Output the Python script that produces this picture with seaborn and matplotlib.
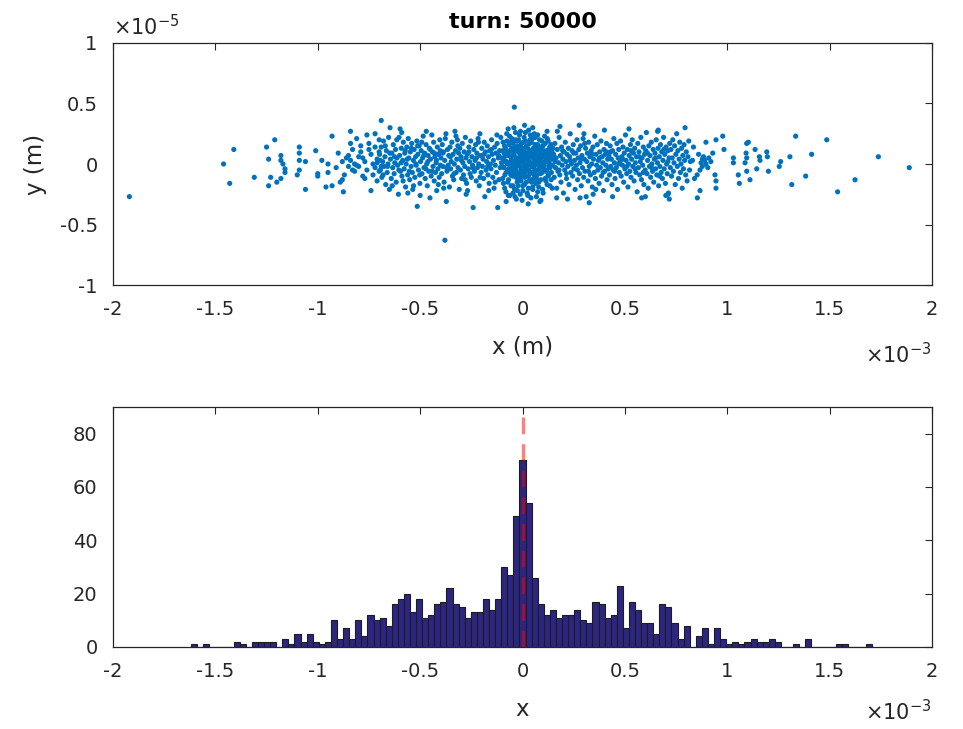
import numpy as np
import pandas as pd
import matplotlib
matplotlib.use("Agg")
import matplotlib.pyplot as plt
import seaborn as sns

# ---------------- data ----------------
title_text = "turn: 50000"
scatter_xlabel = "x (m)"
scatter_ylabel = "y (m)"
hist_xlabel = "x"
x_ticks = [-2, -1.5, -1, -0.5, 0, 0.5, 1, 1.5, 2]          # units of 1e-3 m
y_ticks = [-1, -0.5, 0, 0.5, 1]                             # units of 1e-5 m
hist_yticks = [0, 20, 40, 60, 80]

# scatter points (x in 1e-3 m, y in 1e-5 m), grouped by region
pts_left_tail = [(-1.92,-0.27),(-1.46,0.00),(-1.41,0.12),(-1.43,-0.16),(-1.31,-0.11),(-1.25,0.14),(-1.21,0.20),
    (-1.24,0.04),(-1.23,-0.11),(-1.24,-0.18),(-1.18,0.07),(-1.18,0.03),(-1.17,0.00),(-1.16,-0.04),(-1.16,-0.07),
    (-1.18,-0.12),(-1.20,-0.15),(-1.09,0.14),(-1.09,0.09),(-1.09,0.03),(-1.06,0.02),(-1.09,-0.05),(-1.10,-0.09),
    (-1.06,-0.21),(-1.01,0.11),(-0.98,0.03),(-1.00,-0.08),(-1.00,-0.10),(-0.95,0.00),(-0.95,-0.07),(-0.96,-0.19),
    (-0.93,-0.18),(-0.93,0.23)]
pts_left_mid = [(-0.84,0.27),(-0.84,0.17),(-0.83,0.12),(-0.81,0.21),(-0.85,0.07),(-0.84,0.03),(-0.85,-0.02),
    (-0.87,-0.09),(-0.88,-0.13),(-0.89,-0.15),(-0.875,-0.23),(-0.82,-0.06),(-0.76,0.24),(-0.75,0.17),(-0.79,0.10),
    (-0.78,0.05),(-0.77,0.02),(-0.80,-0.02),(-0.76,-0.05),(-0.74,0.08),(-0.73,0.00),(-0.72,-0.03),(-0.75,0.12),
    (-0.78,-0.10),(-0.77,-0.12),(-0.72,0.14),(-0.71,0.04),(-0.73,-0.09),(-0.80,0.06),(-0.81,-0.01),(-0.79,0.15),
    (-0.70,0.20),(-0.71,-0.14),(-0.74,-0.22),(-0.69,0.36),(-0.72,0.25),(-0.70,0.10),(-0.70,-0.06),(-0.71,0.01),
    (-0.69,-0.02),(-0.86,0.05),(-0.82,0.00),(-0.83,-0.05),(-0.88,0.02),(-0.90,0.09),(-0.91,-0.03)]
pts_left_inner = [(-0.698,0.08),(-0.694,-0.05),(-0.690,0.14),(-0.687,-0.11),(-0.683,0.02),(-0.679,0.19),(-0.676,-0.02),
    (-0.672,0.06),(-0.668,-0.17),(-0.665,0.11),(-0.661,-0.07),(-0.657,0.00),(-0.654,0.22),(-0.650,-0.21),(-0.647,0.30),
    (-0.645,0.04),(-0.641,-0.12),(-0.638,0.09),(-0.634,-0.03),(-0.631,0.16),(-0.627,-0.08),(-0.624,0.01),(-0.620,0.12),
    (-0.617,-0.15),(-0.613,0.05),(-0.610,-0.01),(-0.606,-0.25),(-0.603,0.22),(-0.600,0.07),(-0.598,0.29),(-0.596,-0.06),
    (-0.592,0.13),(-0.589,-0.10),(-0.585,0.03),(-0.582,0.18),(-0.578,-0.04),(-0.575,0.09),(-0.571,-0.19),(-0.568,0.00),
    (-0.565,0.14),(-0.561,-0.09),(-0.558,0.21),(-0.555,0.05),(-0.551,-0.13),(-0.548,0.10),(-0.544,-0.02),(-0.541,0.17),
    (-0.538,-0.07),(-0.536,-0.21),(-0.533,0.03),(-0.529,0.12),(-0.526,-0.11),(-0.522,0.06),(-0.519,-0.01),(-0.516,0.19),
    (-0.514,-0.35),(-0.511,0.08),(-0.508,-0.05),(-0.505,0.15),(-0.501,-0.16),(-0.498,0.02),(-0.495,0.11),(-0.491,-0.08),
    (-0.488,0.05),(-0.485,0.23),(-0.481,-0.03),(-0.478,0.09),(-0.475,-0.12),(-0.471,0.16),(-0.468,0.00),(-0.465,-0.18),
    (-0.461,0.07),(-0.458,-0.06),(-0.455,0.13),(-0.452,-0.28),(-0.449,0.04),(-0.446,-0.10),(-0.443,0.24),(-0.440,0.10),
    (-0.437,-0.02),(-0.434,0.18),(-0.431,-0.14),(-0.428,0.06),(-0.425,-0.07),(-0.422,0.01),(-0.419,-0.22),(-0.416,0.14),
    (-0.413,-0.04),(-0.410,0.08),(-0.407,-0.11),(-0.404,0.20),(-0.401,-0.01),
    (-0.695,0.03),(-0.681,-0.09),(-0.670,0.15),(-0.659,-0.02),(-0.648,0.09),(-0.636,-0.18),(-0.625,0.06),(-0.614,0.20),
    (-0.604,-0.05),(-0.593,0.01),(-0.583,-0.14),(-0.573,0.11),(-0.563,0.04),(-0.553,-0.06),(-0.543,0.13),(-0.532,-0.18),
    (-0.521,0.00),(-0.512,0.15),(-0.502,-0.09),(-0.492,0.18),(-0.482,0.07),(-0.472,-0.04),(-0.462,0.02),(-0.451,0.12),
    (-0.441,-0.06),(-0.430,0.09),(-0.420,0.03),(-0.411,-0.17),(-0.402,0.11),(-0.560,-0.24),(-0.590,0.26),(-0.470,0.27),
    (-0.500,-0.26)]
pts_near_left = [(-0.398,0.05),(-0.395,-0.08),(-0.392,0.16),(-0.389,-0.02),(-0.386,0.10),(-0.383,-0.15),(-0.380,0.03),
    (-0.379,-0.63),(-0.377,0.21),(-0.374,0.25),(-0.372,-0.31),(-0.369,-0.06),(-0.366,0.12),(-0.363,-0.01),(-0.360,0.07),
    (-0.357,-0.19),(-0.354,0.14),(-0.351,-0.04),(-0.348,0.02),(-0.345,0.18),(-0.342,-0.10),(-0.339,0.08),(-0.336,-0.13),
    (-0.333,0.00),(-0.330,0.27),(-0.327,0.11),(-0.324,-0.07),(-0.321,0.04),(-0.318,0.20),(-0.315,-0.03),(-0.312,0.09),
    (-0.309,-0.21),(-0.306,0.13),(-0.303,-0.05),(-0.300,0.06),(-0.297,-0.12),(-0.294,0.17),(-0.291,0.01),(-0.288,-0.09),
    (-0.285,0.10),(-0.282,-0.02),(-0.279,0.22),(-0.276,0.05),(-0.273,-0.16),(-0.270,0.08),(-0.268,-0.22),(-0.265,-0.04),
    (-0.262,0.14),(-0.259,0.02),(-0.256,-0.08),(-0.253,0.19),(-0.250,-0.11),(-0.247,0.06),(-0.244,-0.01),(-0.241,-0.36),
    (-0.238,0.12),(-0.235,-0.06),(-0.232,0.03),(-0.229,0.16),(-0.226,-0.14),(-0.223,0.09),(-0.220,-0.03),(-0.217,0.21),
    (-0.214,0.00),(-0.211,-0.18),(-0.208,0.25),(-0.205,0.07),(-0.202,-0.07),(-0.199,0.13),(-0.196,-0.02),(-0.193,0.04),
    (-0.190,-0.12),(-0.187,0.18),(-0.184,-0.27),(-0.181,0.10),(-0.178,-0.05),(-0.175,0.02),(-0.172,0.15),(-0.169,-0.09),
    (-0.166,0.06),(-0.163,-0.16),(-0.160,0.11),(-0.157,0.00),(-0.154,-0.04),(-0.151,0.20),(-0.148,0.08),(-0.145,-0.11),
    (-0.142,0.03),(-0.139,-0.20),(-0.136,0.14),(-0.133,-0.01),(-0.130,0.09),(-0.127,-0.07),(-0.124,0.17),(-0.121,-0.36),
    (-0.118,0.05),(-0.115,-0.13),(-0.112,0.11),(-0.109,-0.03),(-0.106,0.22),(-0.103,0.01),
    (-0.390,0.09),(-0.371,-0.03),(-0.352,0.06),(-0.334,-0.08),(-0.316,0.15),(-0.298,0.03),(-0.280,-0.13),(-0.262,0.10),
    (-0.243,-0.03),(-0.225,0.05),(-0.207,-0.11),(-0.188,0.08),(-0.170,-0.02),(-0.152,0.12),(-0.134,-0.15),(-0.116,0.07),
    (-0.385,-0.20),(-0.325,0.23),(-0.275,-0.25),(-0.215,0.18),(-0.165,-0.22),(-0.125,0.24)]
pts_core = [(-0.100,0.05),(-0.097,-0.12),(-0.095,0.18),(-0.092,-0.03),(-0.090,0.09),(-0.087,-0.20),(-0.085,0.02),
    (-0.082,0.13),(-0.080,-0.07),(-0.077,0.25),(-0.075,0.00),(-0.072,-0.15),(-0.070,0.07),(-0.067,-0.04),(-0.065,0.16),
    (-0.062,-0.26),(-0.060,0.11),(-0.057,-0.09),(-0.055,0.03),(-0.052,0.21),(-0.050,-0.01),(-0.047,-0.18),(-0.045,0.08),
    (-0.042,0.30),(-0.040,0.47),(-0.038,-0.05),(-0.035,0.14),(-0.032,-0.11),(-0.030,0.04),(-0.027,0.19),(-0.025,-0.22),
    (-0.022,0.01),(-0.020,0.10),(-0.017,-0.08),(-0.015,0.24),(-0.012,-0.02),(-0.010,0.06),(-0.007,-0.14),(-0.005,0.17),
    (-0.002,-0.30),(0.000,0.03),(0.003,0.12),(0.005,-0.06),(0.008,0.22),(0.010,-0.17),(0.013,0.00),(0.015,0.09),
    (0.018,-0.04),(0.020,0.15),(0.023,-0.24),(0.025,0.05),(0.028,-0.10),(0.030,0.28),(0.033,0.02),(0.035,-0.13),
    (0.038,0.11),(0.040,-0.01),(0.043,0.18),(0.045,-0.07),(0.048,0.07),(0.050,-0.19),(0.053,0.13),(0.055,-0.03),
    (0.058,0.25),(0.060,0.04),(0.063,-0.11),(0.065,0.09),(0.068,-0.27),(0.070,0.01),(0.073,0.16),(0.075,-0.05),
    (0.078,0.10),(0.080,-0.15),(0.083,0.20),(0.085,0.03),(0.088,-0.08),(0.090,0.12),(0.093,-0.02),(0.095,0.06),
    (0.098,-0.21),(0.100,0.15),(0.103,-0.04),(0.105,0.08),(0.108,0.23),(0.110,-0.12),(0.113,0.02),(0.115,-0.06),
    (0.118,0.11),(0.120,-0.17),(0.123,0.05),(0.125,0.19),(0.128,-0.09),(0.130,0.01),(0.133,0.14),(0.135,-0.03),
    (0.138,0.07),(0.140,-0.13),(0.143,0.10),(0.145,-0.20),(0.148,0.04),
    (-0.099,-0.02),(-0.096,0.11),(-0.093,-0.16),(-0.091,0.04),(-0.088,0.15),(-0.086,-0.09),(-0.083,0.07),(-0.081,-0.23),
    (-0.078,0.02),(-0.076,0.19),(-0.073,-0.05),(-0.071,0.10),(-0.068,-0.13),(-0.066,0.00),(-0.063,0.23),(-0.061,-0.07),
    (-0.058,0.06),(-0.056,-0.18),(-0.053,0.13),(-0.051,0.03),(-0.048,-0.10),(-0.046,0.17),(-0.043,-0.04),(-0.041,0.08),
    (-0.039,-0.21),(-0.036,0.01),(-0.034,0.26),(-0.031,-0.06),(-0.029,0.12),(-0.026,-0.15),(-0.024,0.05),(-0.021,-0.01),
    (-0.019,0.20),(-0.016,-0.12),(-0.014,0.09),(-0.011,-0.25),(-0.009,0.02),(-0.006,0.14),(-0.004,-0.08),(-0.001,0.07),
    (0.001,-0.18),(0.004,0.18),(0.006,-0.02),(0.009,0.10),(0.011,-0.11),(0.014,0.26),(0.016,0.04),(0.019,-0.15),
    (0.021,0.08),(0.024,-0.05),(0.026,0.13),(0.029,-0.20),(0.031,0.00),(0.034,0.17),(0.036,-0.08),(0.039,0.06),
    (0.041,-0.28),(0.044,0.11),(0.046,-0.02),(0.049,0.21),(0.051,0.05),(0.054,-0.12),(0.056,0.09),(0.059,-0.06),
    (0.061,0.16),(0.064,-0.16),(0.066,0.03),(0.069,0.12),(0.071,-0.09),(0.074,0.24),(0.076,0.00),(0.079,-0.19),
    (0.081,0.07),(0.084,-0.03),(0.086,0.14),(0.089,-0.13),(0.091,0.05),(0.094,0.19),(0.096,-0.07),(0.099,0.02),
    (0.101,-0.24),(0.104,0.11),(0.106,-0.01),(0.109,0.06),(0.111,0.17),(0.114,-0.14),(0.116,0.03),(0.119,-0.05),
    (0.121,0.21),(0.124,-0.10),(0.126,0.08),(0.129,-0.02),(0.131,0.12),(0.134,-0.18),(0.136,0.04),(0.139,0.16),
    (0.141,-0.07),(0.144,0.09),(0.146,-0.01),(0.149,0.13),
    (-0.060,0.01),(-0.056,-0.04),(-0.052,0.07),(-0.048,0.00),(-0.044,-0.06),(-0.040,0.11),(-0.036,-0.09),(-0.032,0.05),
    (-0.028,-0.02),(-0.024,0.15),(-0.020,-0.14),(-0.016,0.03),(-0.012,0.12),(-0.008,-0.05),(-0.004,0.08),(0.000,-0.10),
    (0.004,0.01),(0.008,0.06),(0.012,-0.07),(0.016,0.14),(0.020,-0.02),(0.024,0.09),(0.028,0.03),(0.032,-0.05),
    (0.036,0.20),(0.040,0.07),(0.044,-0.15),(0.048,0.01),(0.052,-0.08),(0.056,0.11),(0.060,-0.01),(0.064,0.06),
    (0.068,-0.12),(0.072,0.04),(0.076,0.15),(0.080,-0.04),(0.084,0.09),(0.088,0.01),(-0.058,0.18),(-0.046,-0.24),
    (-0.034,0.20),(-0.022,-0.18),(-0.010,0.27),(0.002,-0.22),(0.014,0.19),(0.026,-0.26),(0.038,0.24),(0.050,-0.21),
    (0.062,0.22),(0.074,-0.23),(-0.070,0.29),(-0.030,-0.29),(0.010,0.32),(0.050,0.30),(0.090,-0.30),(0.120,0.27),
    (-0.080,-0.31),(0.028,-0.33),(0.085,-0.31),(-0.037,-0.27),(-0.069,-0.26)]
pts_near_right = [(0.152,0.08),(0.155,-0.11),(0.158,0.17),(0.161,-0.03),(0.164,0.05),(0.167,-0.20),(0.170,0.12),
    (0.173,-0.06),(0.176,0.01),(0.179,0.22),(0.182,-0.09),(0.185,0.07),(0.188,-0.15),(0.191,0.14),(0.194,-0.01),
    (0.197,0.04),(0.200,-0.24),(0.203,0.10),(0.206,-0.05),(0.209,0.18),(0.212,0.02),(0.215,-0.12),(0.218,0.08),
    (0.221,-0.02),(0.224,0.13),(0.227,-0.17),(0.230,0.06),(0.233,0.25),(0.236,-0.07),(0.239,0.00),(0.242,0.11),
    (0.245,-0.10),(0.248,0.16),(0.251,-0.04),(0.254,0.03),(0.257,-0.21),(0.260,0.09),(0.263,-0.01),(0.266,0.20),
    (0.269,-0.13),(0.272,0.05),(0.275,0.12),(0.278,-0.08),(0.281,0.01),(0.284,0.15),(0.287,-0.18),(0.290,0.07),
    (0.293,-0.03),(0.296,0.21),(0.299,-0.11),(0.302,0.04),(0.305,-0.06),(0.308,0.13),(0.311,-0.27),(0.314,0.02),
    (0.317,0.09),(0.320,-0.14),(0.323,0.18),(0.326,-0.02),(0.329,0.06),(0.332,-0.09),(0.335,0.11),(0.338,0.00),
    (0.341,-0.19),(0.344,0.14),(0.347,0.04),(0.350,-0.07),(0.353,0.23),(0.356,-0.12),(0.359,0.08),(0.362,-0.01),
    (0.365,0.16),(0.368,-0.05),(0.371,0.03),(0.374,-0.16),(0.377,0.10),(0.380,-0.03),(0.383,0.19),(0.386,-0.10),
    (0.389,0.06),(0.392,0.01),(0.395,-0.22),(0.398,0.12),(0.401,-0.06),(0.404,0.08),(0.407,-0.01),(0.410,0.17),
    (0.413,-0.13),(0.416,0.04),(0.419,-0.04),
    (0.160,0.02),(0.178,-0.05),(0.196,0.11),(0.214,-0.08),(0.232,0.03),(0.250,0.09),(0.268,-0.05),(0.286,0.04),
    (0.304,0.17),(0.322,-0.06),(0.340,0.08),(0.358,-0.21),(0.376,0.05),(0.394,-0.07),(0.412,0.10),(0.170,0.27),
    (0.220,-0.29),(0.300,0.25),(0.345,-0.25),(0.400,0.28),(0.183,0.31),(0.277,0.32),(0.167,-0.28),(0.281,-0.28),
    (0.326,-0.32)]
pts_right_inner = [(0.422,0.07),(0.425,-0.09),(0.428,0.15),(0.431,-0.02),(0.434,0.04),(0.437,-0.17),(0.440,0.11),
    (0.443,-0.05),(0.446,0.21),(0.449,0.01),(0.452,-0.12),(0.455,0.08),(0.458,-0.03),(0.461,0.17),(0.464,-0.21),
    (0.467,0.05),(0.470,0.12),(0.473,-0.07),(0.476,0.02),(0.479,0.19),(0.482,-0.10),(0.485,0.06),(0.488,-0.01),
    (0.491,0.14),(0.494,-0.15),(0.497,0.09),(0.500,-0.04),(0.503,0.24),(0.506,0.03),(0.509,-0.08),(0.512,0.12),
    (0.515,-0.19),(0.518,0.00),(0.521,0.07),(0.524,-0.06),(0.527,0.16),(0.530,-0.11),(0.533,0.04),(0.536,0.20),
    (0.539,-0.02),(0.542,0.09),(0.545,-0.14),(0.548,0.13),(0.551,0.01),(0.554,-0.07),(0.557,0.06),(0.560,-0.23),
    (0.563,0.17),(0.566,-0.03),(0.569,0.10),(0.572,-0.09),(0.575,0.02),(0.578,0.22),(0.581,-0.13),(0.584,0.05),
    (0.587,-0.01),(0.590,0.14),(0.593,-0.17),(0.596,0.08),(0.599,-0.05),(0.602,0.11),(0.605,0.26),(0.608,-0.08),
    (0.611,0.03),(0.614,-0.20),(0.617,0.15),(0.620,-0.02),(0.623,0.07),(0.626,-0.11),(0.629,0.18),(0.632,0.00),
    (0.635,-0.06),(0.638,0.12),(0.641,-0.15),(0.644,0.04),(0.647,0.09),(0.650,-0.04),(0.653,0.20),(0.656,-0.09),
    (0.659,0.01),(0.662,0.13),(0.665,-0.18),(0.668,0.06),(0.671,-0.02),(0.674,0.16),(0.677,-0.07),(0.680,0.10),
    (0.683,-0.12),(0.686,0.03),(0.689,0.22),(0.692,-0.04),(0.695,0.08),(0.698,-0.16),(0.701,0.14),(0.704,0.00),
    (0.707,-0.08),(0.710,0.11),(0.713,-0.24),(0.716,0.05),(0.719,0.17),
    (0.430,0.10),(0.450,-0.06),(0.470,0.00),(0.490,0.04),(0.510,-0.02),(0.530,0.11),(0.550,-0.04),(0.570,0.06),
    (0.590,-0.07),(0.610,0.09),(0.630,-0.03),(0.650,0.05),(0.670,-0.10),(0.690,0.12),(0.710,0.02),(0.440,-0.27),
    (0.520,0.29),(0.600,-0.27),(0.660,0.27),(0.700,-0.26)]
pts_right_mid = [(0.722,-0.03),(0.725,0.12),(0.728,-0.10),(0.731,0.05),(0.734,0.20),(0.737,-0.06),(0.740,0.01),
    (0.743,0.15),(0.746,-0.17),(0.749,0.08),(0.753,0.25),(0.756,-0.02),(0.759,0.11),(0.762,-0.12),(0.765,0.04),
    (0.768,0.18),(0.771,-0.07),(0.774,0.00),(0.777,0.13),(0.780,-0.20),(0.783,0.07),(0.786,-0.04),(0.789,0.16),
    (0.792,0.03),(0.794,0.30),(0.797,-0.09),(0.800,0.10),(0.804,-0.14),(0.808,0.06),(0.812,0.19),(0.816,-0.05),
    (0.820,0.02),(0.663,0.28),(0.582,-0.28),(0.717,-0.29),(0.710,-0.25),
    (0.854,-0.28),(0.867,-0.22),(0.853,-0.09),(0.867,-0.05),(0.872,0.01),(0.878,0.04),(0.884,0.06),(0.890,0.03),
    (0.896,0.00),(0.878,-0.02),(0.896,0.18),(0.929,0.09),(0.945,0.20),(0.978,0.23),(0.984,0.12),(0.945,-0.20),
    (0.945,-0.14),(0.940,-0.09),(0.910,0.05),(0.920,0.02),(0.905,-0.03),(0.860,0.08),(0.840,-0.12),(0.835,0.14),
    (0.830,0.03)]
pts_right_tail = [(1.889,-0.03),(1.738,0.06),(1.624,-0.13),(1.539,-0.23),(1.486,0.20),(1.412,0.08),(1.383,-0.10),
    (1.334,0.23),(1.315,-0.17),(1.306,0.06),(1.261,0.02),(1.254,-0.02),(1.201,-0.06),(1.193,0.10),(1.196,0.06),
    (1.157,0.06),(1.160,0.03),(1.144,-0.04),(1.136,0.12),(1.111,-0.13),(1.103,0.18),(1.095,0.17),(1.092,0.09),
    (1.095,0.05),(1.087,0.01),(1.095,-0.06),(1.059,-0.16),(1.054,-0.09),(1.030,0.05),(1.030,0.01)]

# histogram of x (units of 1e-3 m): bin width, index of first bin (bins centred on k*width), counts
hist_bin_width = 0.0297
hist_first_bin = -54
hist_counts = [1, 0, 1, 0, 0, 0, 0, 2, 1, 0, 2, 2, 2, 2, 0,            # k=-54..-40
               3, 1, 5, 2, 5, 2, 1, 2, 10, 3,                          # -39..-30
               7, 3, 10, 4, 12, 10, 11, 8, 16, 18,                     # -29..-20
               20, 13, 18, 11, 12, 16, 17, 22, 16, 15,                 # -19..-10
               11, 13, 13, 18, 14, 18, 30, 27, 49,                     # -9..-1
               70,                                                     # 0
               54, 26, 16, 12, 14, 11, 12, 12, 14, 10,                 # 1..10
               9, 17, 16, 11, 12, 23, 7, 17, 14, 9,                    # 11..20
               9, 5, 16, 15, 9, 3, 8, 0, 4, 7,                         # 21..30
               1, 7, 3, 1, 2, 1, 2, 3, 2, 2,                           # 31..40
               3, 2, 0, 0, 1, 0, 3, 0, 0, 0, 0, 1, 1, 0, 0, 0, 1]      # 41..57

# ---------------- plotting ----------------
sns.set_theme(style="white")
plt.rcParams["font.family"] = ["DejaVu Sans"]
plt.rcParams["axes.unicode_minus"] = False

all_pts = (pts_left_tail + pts_left_mid + pts_left_inner + pts_near_left + pts_core +
           pts_near_right + pts_right_inner + pts_right_mid + pts_right_tail)
scatter_df = pd.DataFrame(all_pts, columns=["x", "y"])

n_bins = len(hist_counts)
bin_idx = np.arange(hist_first_bin, hist_first_bin + n_bins)
hist_df = pd.DataFrame({"center": bin_idx * hist_bin_width,
                        "count": np.asarray(hist_counts, dtype=float)})
bin_edges = (np.arange(hist_first_bin, hist_first_bin + n_bins + 1) - 0.5) * hist_bin_width

W, H = 963, 729
fig = plt.figure(figsize=(W / 100, H / 100), dpi=100)
ax1 = fig.add_axes([113 / W, 1 - 285 / H, 819 / W, 242 / H])
ax2 = fig.add_axes([113 / W, 1 - 647 / H, 819 / W, 240 / H])

txt_col = "#262626"
scatter_col = "#0072BD"

sns.scatterplot(data=scatter_df, x="x", y="y", ax=ax1, s=14, color=scatter_col,
                edgecolor="none", linewidth=0)
ax1.set_xlim(-2, 2)
ax1.set_ylim(-1, 1)
ax1.set_xticks(x_ticks)
ax1.set_yticks(y_ticks)
ax1.set_xticklabels([f"{t:g}" for t in x_ticks])
ax1.set_yticklabels([f"{t:g}" for t in y_ticks])
ax1.set_xlabel(scatter_xlabel, fontsize=16.5, color=txt_col, labelpad=12)
ax1.set_ylabel(scatter_ylabel, fontsize=16.5, color=txt_col, labelpad=9)
ax1.set_title(title_text, fontsize=16, fontweight="bold", color="black", pad=11)

sns.histplot(data=hist_df, x="center", weights="count", bins=list(bin_edges), ax=ax2,
             color="#2c2682", edgecolor="#1c1c1c", linewidth=0.8, alpha=1.0)
ax2.axvline(0, color="red", alpha=0.5, lw=2.4, linestyle=(0, (5, 3)))
ax2.set_xlim(-2, 2)
ax2.set_ylim(0, 90)
ax2.set_xticks(x_ticks)
ax2.set_yticks(hist_yticks)
ax2.set_xticklabels([f"{t:g}" for t in x_ticks])
ax2.set_yticklabels([f"{t:g}" for t in hist_yticks])
ax2.set_xlabel(hist_xlabel, fontsize=16.5, color=txt_col, labelpad=12)
ax2.set_ylabel("")

for ax in (ax1, ax2):
    ax.tick_params(direction="in", top=True, right=True, length=5, width=0.8,
                   labelsize=14, colors=txt_col, pad=11)
    for sp in ax.spines.values():
        sp.set_color(txt_col)
        sp.set_linewidth(0.9)
        sp.set_visible(True)
    ax.grid(False)

# exponent annotations (MATLAB style)
ax1.text(0.0, 1.066, r"$\times10^{-5}$", transform=ax1.transAxes, ha="left", va="center",
         fontsize=15, color=txt_col)
ax1.text(1.0, -0.289, r"$\times10^{-3}$", transform=ax1.transAxes, ha="right", va="center",
         fontsize=15, color=txt_col)
ax2.text(1.0, -0.271, r"$\times10^{-3}$", transform=ax2.transAxes, ha="right", va="center",
         fontsize=15, color=txt_col)

fig.savefig("out.png", dpi=100)
